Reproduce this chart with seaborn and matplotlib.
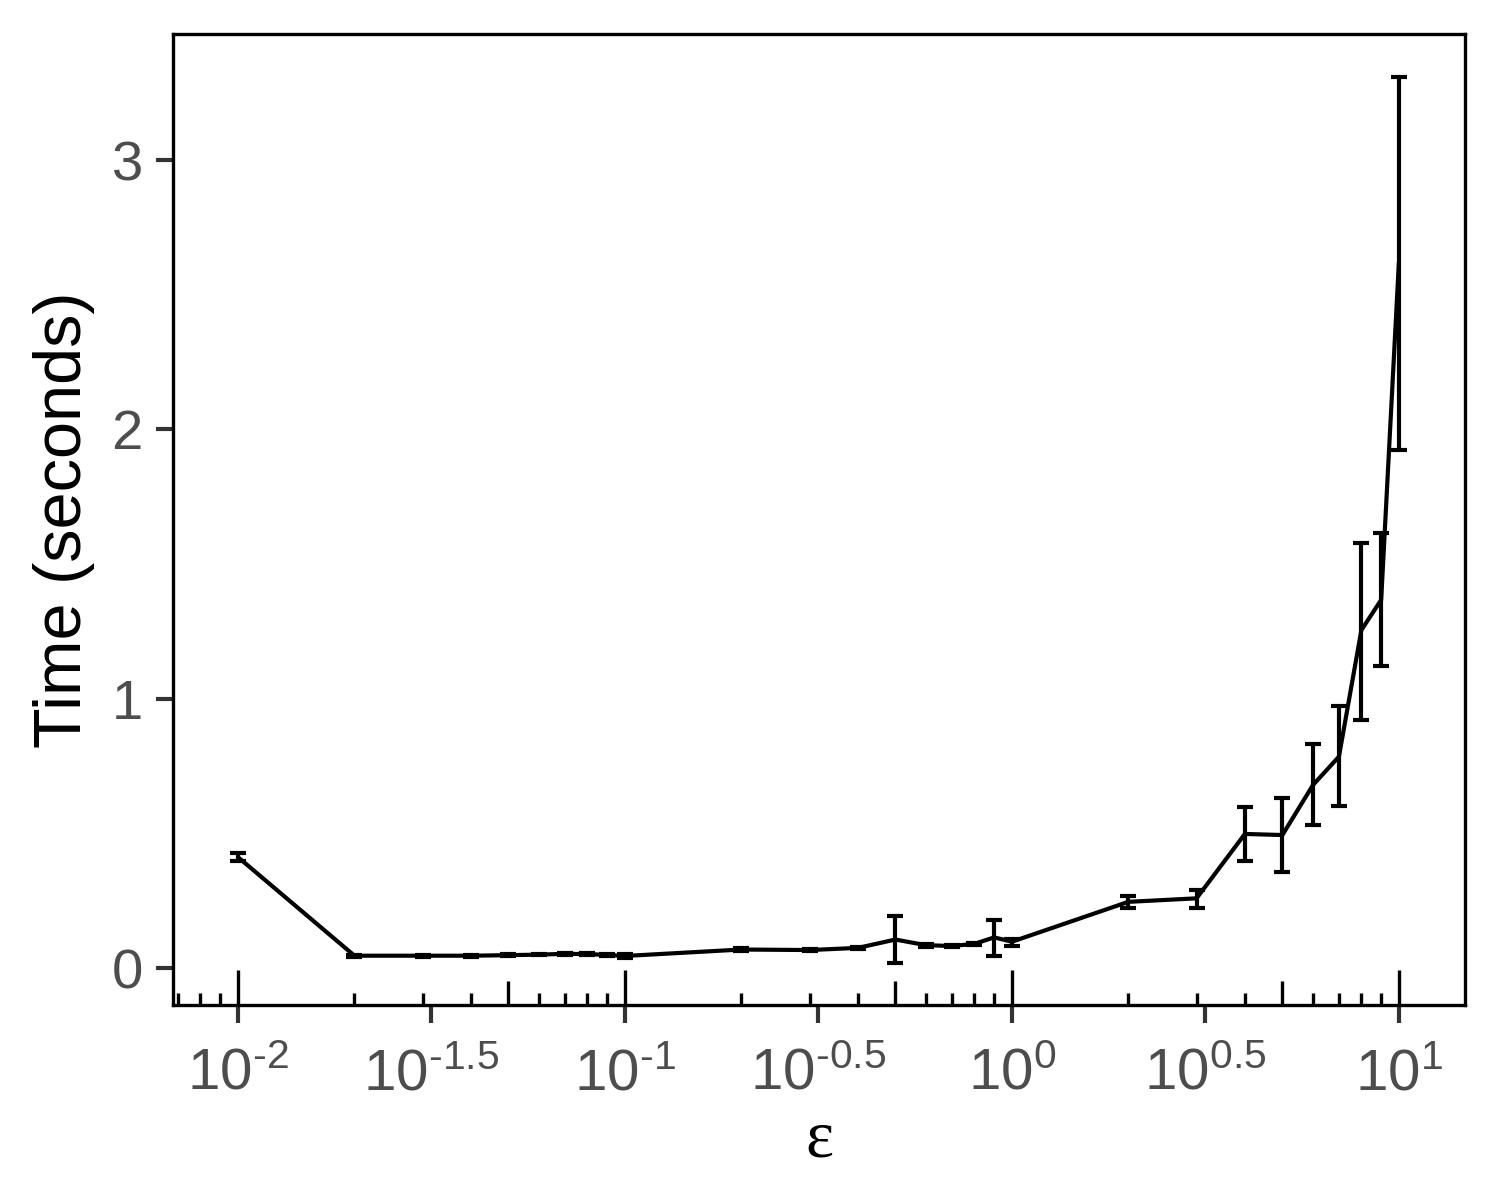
import numpy as np
import pandas as pd
import matplotlib
matplotlib.use("Agg")
import matplotlib.pyplot as plt
import matplotlib.transforms as mtransforms
import seaborn as sns

# epsilon values and timing summary (mean with lower/upper error bounds)
epsilon = [0.01, 0.02, 0.03, 0.04, 0.05, 0.06, 0.07, 0.08, 0.09, 0.10,
           0.2, 0.3, 0.4, 0.5, 0.6, 0.7, 0.8, 0.9, 1.0,
           2, 3, 4, 5, 6, 7, 8, 9, 10]
time_mean = [0.412, 0.046, 0.046, 0.046, 0.048, 0.050, 0.053, 0.052, 0.049, 0.045,
             0.069, 0.067, 0.075, 0.106, 0.085, 0.082, 0.090, 0.114, 0.098,
             0.246, 0.259, 0.498, 0.494, 0.680, 0.785, 1.255, 1.367, 2.620]
time_lower = [0.397, 0.042, 0.043, 0.043, 0.045, 0.047, 0.050, 0.049, 0.046, 0.038,
              0.065, 0.063, 0.071, 0.018, 0.079, 0.077, 0.085, 0.046, 0.082,
              0.222, 0.224, 0.397, 0.355, 0.531, 0.603, 0.921, 1.123, 1.923]
time_upper = [0.427, 0.050, 0.049, 0.049, 0.051, 0.053, 0.056, 0.055, 0.052, 0.052,
              0.073, 0.071, 0.079, 0.193, 0.091, 0.087, 0.095, 0.178, 0.109,
              0.267, 0.290, 0.599, 0.632, 0.832, 0.973, 1.579, 1.616, 3.307]

major_exp = [-2, -1.5, -1, -0.5, 0, 0.5, 1]
major_labels = ["-2", "-1.5", "-1", "-0.5", "0", "0.5", "1"]

sns.set_theme(style="white")
plt.rcParams['font.family'] = ['Liberation Sans', 'DejaVu Sans']
plt.rcParams['mathtext.fontset'] = 'custom'
plt.rcParams['mathtext.rm'] = 'Liberation Sans'
plt.rcParams['mathtext.it'] = 'Liberation Sans'

df = pd.DataFrame({"eps": epsilon, "time": time_mean,
                   "lo": time_lower, "hi": time_upper})

fig = plt.figure(figsize=(5, 4), dpi=300)
ax = fig.add_axes([0.1153, 0.1625, 0.8614, 0.8092])

sns.lineplot(data=df, x="eps", y="time", color="black", lw=1.0, ax=ax)
ax.errorbar(df["eps"], df["time"],
            yerr=[df["time"] - df["lo"], df["hi"] - df["time"]],
            fmt="none", ecolor="black", elinewidth=1.0, capsize=1.9, capthick=1.0)

ax.set_xscale("log")
ax.set_xlim(10 ** -2.168, 10 ** 1.171)
ax.set_ylim(-0.137, 3.468)

# outside major ticks at half decades
ax.set_xticks([10 ** e for e in major_exp])
ax.set_xticklabels([r"$\mathregular{10^{%s}}$" % s.replace("-", r"\text{-}")
                    for s in major_labels])
ax.xaxis.set_minor_locator(matplotlib.ticker.NullLocator())
ax.set_yticks([0, 1, 2, 3])
ax.set_yticklabels(["0", "1", "2", "3"])
ax.tick_params(axis="both", which="major", direction="out", length=4.2, width=1.0,
               color="#333333", labelcolor="#4D4D4D", pad=3)
ax.tick_params(axis="y", labelsize=13.5)
ax.tick_params(axis="x", labelsize=14, pad=6)
ax.tick_params(bottom=True, left=True)

# log ticks drawn inside the panel (ggplot annotation_logticks style)
trans = mtransforms.blended_transform_factory(ax.transData, ax.transAxes)
panel_h_cm = 0.8092 * 4 * 2.54
for k in range(-3, 2):
    for m in range(1, 10):
        v = m * 10.0 ** k
        if v < 10 ** -2.168 or v > 10 ** 1.171:
            continue
        length = 0.3 if m == 1 else (0.2 if m == 5 else 0.1)
        ax.plot([v, v], [0, length / panel_h_cm], color="black", lw=0.8,
                transform=trans, clip_on=False, solid_capstyle="butt")

for side in ["left", "right", "top", "bottom"]:
    ax.spines[side].set_visible(True)
    ax.spines[side].set_color("black")
    ax.spines[side].set_linewidth(0.8)

ax.set_xlabel("ε", fontsize=16, family=["Liberation Serif", "DejaVu Serif"],
              color="black", labelpad=2)
ax.set_ylabel("Time (seconds)", fontsize=16, color="black", labelpad=4)

fig.savefig("out.png", dpi=300)
